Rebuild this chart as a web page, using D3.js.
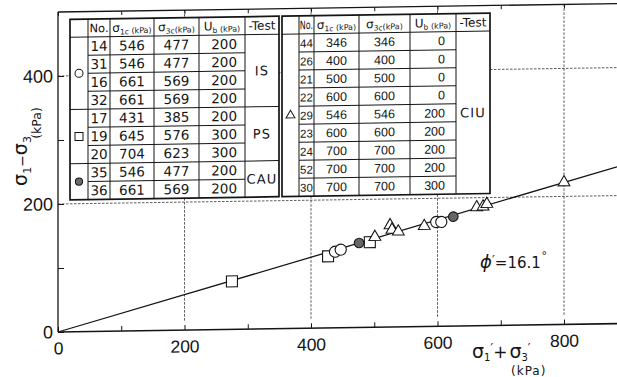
<!DOCTYPE html>
<html>
<head>
<meta charset="utf-8">
<script src="https://cdn.jsdelivr.net/npm/d3@7"></script>
<style>
  html, body { margin: 0; padding: 0; background: #fff; }
  svg { display: block; }
</style>
</head>
<body>
<svg id="chart" width="617" height="377"></svg>
<script>
// ---- test tables ----
const leftNo      = [14, 31, 16, 32, 17, 19, 20, 35, 36];
const leftSig1c   = [546, 546, 661, 661, 431, 645, 704, 546, 661];
const leftSig3c   = [477, 477, 569, 569, 385, 576, 623, 477, 569];
const leftUb      = [200, 200, 200, 200, 200, 300, 300, 200, 200];
const leftTests   = ["IS", "PS", "CAU"];
const leftSymbols = ["circle", "square", "dot"];
const leftGroupSizes = [4, 3, 2];

const rightNo      = [44, 26, 21, 22, 29, 23, 24, 52, 30];
const rightSig1c   = [346, 400, 500, 600, 546, 600, 700, 700, 700];
const rightSig3c   = [346, 400, 500, 600, 546, 600, 700, 700, 700];
const rightUb      = [0, 0, 0, 0, 200, 200, 200, 200, 300];
const rightTests   = ["CIU"];
const rightSymbols = ["triangle"];
const rightGroupSizes = [9];

// ---- failure points: sigma1' + sigma3' (x) and sigma1 - sigma3 (y), kPa ----
const isX  = [438, 447, 598, 606];
const isY  = [119, 122, 163, 163];
const psX  = [275, 427, 493];
const psY  = [75, 112, 133];
const cauX = [476, 625];
const cauY = [132, 171];
const ciuX = [501, 525, 528, 538, 579, 662, 672, 678, 800];
const ciuY = [141, 159, 152, 149, 157, 185, 186, 190, 222];

// failure line angle (degrees)
const phiDeg = 16.1;

// ---- axis ticks ----
const xTicks = [0, 100, 200, 300, 400, 500, 600, 700, 800];
const xLabels = [0, 200, 400, 600, 800];
const yTicks = [0, 100, 200, 300, 400];
const yLabels = [0, 200, 400];
const gridX = [200, 400, 600, 800];
const gridY = [200, 400];

// ---------------------------------------------------------------
const W = 617, H = 377;
const svg = d3.select("#chart");
const x = d3.scaleLinear().domain([0, 800]).range([58, 564]);
const y = d3.scaleLinear().domain([0, 400]).range([332, 76]);
const xMax = x.invert(W);
const yTop = 500;

const ink = "#151515";
const numFont = "'DejaVu Sans', sans-serif";
const tickFont = "'Liberation Sans', Arial, sans-serif";

// the plotting frame is very slightly sheared, as on the printed page
const plot = svg.append("g")
  .attr("transform", "translate(58,0) skewY(-0.86) translate(-58,0)");

// dotted grid
const grid = plot.append("g")
  .attr("stroke", "#333").attr("stroke-width", 0.8)
  .attr("stroke-dasharray", "2.5,1.5").attr("fill", "none");
gridX.forEach(v => {
  grid.append("line")
    .attr("x1", x(v)).attr("x2", x(v))
    .attr("y1", y(yTop)).attr("y2", y(14));
});
gridY.forEach(v => {
  grid.append("line")
    .attr("x1", x(0)).attr("x2", x(xMax))
    .attr("y1", y(v)).attr("y2", y(v));
});

// axes
const xAxis = d3.axisBottom(x).tickValues(xTicks)
  .tickSizeInner(-5).tickSizeOuter(0).tickPadding(10)
  .tickFormat(d => xLabels.includes(d) ? d : "");
const gx = plot.append("g").attr("transform", `translate(0,${y(0)})`).call(xAxis);
gx.select(".domain").remove();
gx.selectAll("line").attr("stroke", ink).attr("stroke-width", 1);
gx.selectAll("text").attr("font-family", tickFont).attr("font-size", 17.5).attr("fill", ink);

const yAxis = d3.axisLeft(y).tickValues(yTicks)
  .tickSizeInner(-6).tickSizeOuter(0).tickPadding(5)
  .tickFormat(d => yLabels.includes(d) ? d : "");
const gy = plot.append("g").attr("transform", `translate(${x(0)},0)`).call(yAxis);
gy.select(".domain").remove();
gy.selectAll("line").attr("stroke", ink).attr("stroke-width", 1);
gy.selectAll("text").attr("font-family", tickFont).attr("font-size", 18).attr("fill", ink);

const topAxis = d3.axisTop(x).tickValues(xTicks)
  .tickSizeInner(-4).tickSizeOuter(0).tickFormat("");
const gt = plot.append("g").attr("transform", `translate(0,${y(yTop)})`).call(topAxis);
gt.select(".domain").remove();
gt.selectAll("line").attr("stroke", ink).attr("stroke-width", 1);

// frame lines
plot.append("line").attr("x1", x(0)).attr("x2", x(xMax))
  .attr("y1", y(0)).attr("y2", y(0)).attr("stroke", ink).attr("stroke-width", 1.6);
plot.append("line").attr("x1", x(0)).attr("x2", x(0))
  .attr("y1", y(0)).attr("y2", y(yTop)).attr("stroke", ink).attr("stroke-width", 1.3);
plot.append("line").attr("x1", x(0)).attr("x2", x(xMax))
  .attr("y1", y(yTop)).attr("y2", y(yTop)).attr("stroke", ink).attr("stroke-width", 1.3);

// ---- tables ----
function symbolAt(g, kind, cx, cy) {
  if (kind === "circle") {
    g.append("circle").attr("cx", cx).attr("cy", cy).attr("r", 4)
      .attr("fill", "#fff").attr("stroke", ink).attr("stroke-width", 1);
  } else if (kind === "dot") {
    g.append("circle").attr("cx", cx).attr("cy", cy).attr("r", 3.6)
      .attr("fill", "#6a6a6a").attr("stroke", ink).attr("stroke-width", 1);
  } else if (kind === "square") {
    g.append("rect").attr("x", cx - 4).attr("y", cy - 4)
      .attr("width", 8).attr("height", 8)
      .attr("fill", "#fff").attr("stroke", ink).attr("stroke-width", 1);
  } else {
    g.append("path").attr("transform", `translate(${cx},${cy})`)
      .attr("d", d3.symbol(d3.symbolTriangle).size(34)())
      .attr("fill", "#fff").attr("stroke", ink).attr("stroke-width", 1);
  }
}

// column heading: main letter, subscript and a small unit
function header(g, cx, cy, main, sub, unit) {
  const t = g.append("text").attr("x", cx).attr("y", cy)
    .attr("text-anchor", "middle").attr("font-family", numFont).attr("fill", ink);
  t.append("tspan").attr("font-size", 12).text(main);
  t.append("tspan").attr("font-size", 7.5).attr("dy", 2.5).text(sub);
  t.append("tspan").attr("font-size", 8).attr("dy", -1).text(unit);
  return t;
}

function drawTable(cfg) {
  const g = plot.append("g");
  const c = cfg.cols, top = 19.5, rh = 18.05, n = cfg.no.length;
  const bottom = top + rh * (n + 1);
  const lineStyle = sel => sel.attr("stroke", ink).attr("stroke-width", 1);

  g.append("rect").attr("x", c[0]).attr("y", top)
    .attr("width", c[6] - c[0]).attr("height", bottom - top)
    .attr("fill", "#fff").attr("stroke", ink).attr("stroke-width", 1.7);
  c.slice(1, -1).forEach(cx => {
    lineStyle(g.append("line").attr("x1", cx).attr("x2", cx).attr("y1", top).attr("y2", bottom));
  });
  lineStyle(g.append("line").attr("x1", c[0]).attr("x2", c[6]).attr("y1", top + rh).attr("y2", top + rh));

  // group boundaries
  const bounds = [];
  let acc = 0;
  cfg.sizes.forEach(s => { bounds.push([acc, acc + s]); acc += s; });
  for (let i = 1; i < n; i++) {
    const yy = top + rh * (i + 1);
    const full = bounds.some(b => b[0] === i);
    lineStyle(g.append("line")
      .attr("x1", full ? c[0] : c[1]).attr("x2", full ? c[6] : c[5])
      .attr("y1", yy).attr("y2", yy));
  }

  // header row
  const hy = top + rh / 2 + 4.3;
  const mid = k => (c[k] + c[k + 1]) / 2;
  g.append("text")
    .attr("transform", `translate(${mid(1)},${hy}) scale(${cfg.noScale},1)`)
    .attr("text-anchor", "middle")
    .attr("font-family", numFont).attr("font-size", 11.5).attr("fill", ink)
    .text("No.");
  header(g, mid(2), hy, "σ", "1c", " (kPa)");
  header(g, mid(3), hy, "σ", "3c", "(kPa)");
  header(g, mid(4), hy, "U", "b", " (kPa)");
  g.append("text").attr("x", mid(5)).attr("y", hy).attr("text-anchor", "middle")
    .attr("font-family", numFont).attr("font-size", 12).attr("fill", ink)
    .text("-Test");

  // body rows
  const fs = cfg.fs;
  const cols = [cfg.no, cfg.s1, cfg.s3, cfg.ub];
  for (let i = 0; i < n; i++) {
    const by = top + rh * (i + 1) + rh / 2 + fs * 0.36;
    cols.forEach((arr, k) => {
      const anchorRight = k === 3;
      g.append("text")
        .attr("x", anchorRight ? c[5] - cfg.ubPad : mid(k + 1))
        .attr("y", by)
        .attr("text-anchor", anchorRight ? "end" : "middle")
        .attr("font-family", cfg.font)
        .attr("font-size", k === 0 ? cfg.noFs : fs).attr("fill", ink)
        .text(arr[i]);
    });
  }

  // group symbols and test names
  bounds.forEach((b, gi) => {
    const cy = top + rh * (1 + (b[0] + b[1]) / 2);
    symbolAt(g, cfg.symbols[gi], mid(0), cy);
    g.append("text").attr("x", mid(5)).attr("y", cy + 4.7)
      .attr("text-anchor", "middle").attr("font-family", numFont)
      .attr("font-size", 13).attr("letter-spacing", 1.2).attr("fill", ink)
      .text(cfg.tests[gi]);
  });
}

drawTable({
  cols: [70, 88, 110, 154, 199, 245, 279],
  no: leftNo, s1: leftSig1c, s3: leftSig3c, ub: leftUb,
  tests: leftTests, symbols: leftSymbols, sizes: leftGroupSizes,
  font: numFont, fs: 13.5, noFs: 13.5, ubPad: 8, noScale: 1
});
drawTable({
  cols: [282, 299, 314, 359, 410, 456, 490],
  no: rightNo, s1: rightSig1c, s3: rightSig3c, ub: rightUb,
  tests: rightTests, symbols: rightSymbols, sizes: rightGroupSizes,
  font: tickFont, fs: 12.5, noFs: 11.5, ubPad: 11, noScale: 0.7
});

// ---- failure envelope ----
const slope = Math.sin(phiDeg * Math.PI / 180);
plot.append("line")
  .attr("x1", x(0)).attr("y1", y(0))
  .attr("x2", x(xMax)).attr("y2", y(xMax * slope))
  .attr("stroke", ink).attr("stroke-width", 1.3);

// ---- points ----
const pts = plot.append("g").attr("stroke", ink).attr("stroke-width", 1.1);
psX.forEach((v, i) => {
  pts.append("rect").attr("x", x(v) - 5.5).attr("y", y(psY[i]) - 5.5)
    .attr("width", 11).attr("height", 11).attr("fill", "#fff");
});
ciuX.forEach((v, i) => {
  pts.append("path").attr("transform", `translate(${x(v)},${y(ciuY[i])})`)
    .attr("d", d3.symbol(d3.symbolTriangle).size(60)()).attr("fill", "#fff");
});
isX.forEach((v, i) => {
  pts.append("circle").attr("cx", x(v)).attr("cy", y(isY[i])).attr("r", 5.6).attr("fill", "#fff");
});
cauX.forEach((v, i) => {
  pts.append("circle").attr("cx", x(v)).attr("cy", y(cauY[i])).attr("r", 4.8).attr("fill", "#666");
});

// ---- axis titles ----
const yt = svg.append("text")
  .attr("transform", "translate(27,161) rotate(-90)")
  .attr("text-anchor", "middle").attr("font-family", numFont).attr("fill", ink);
yt.append("tspan").attr("font-size", 19).text("σ");
yt.append("tspan").attr("font-size", 11).attr("dy", 4).text("1");
yt.append("tspan").attr("font-size", 14).attr("dy", -4).text("−");
yt.append("tspan").attr("font-size", 19).text("σ");
yt.append("tspan").attr("font-size", 11).attr("dy", 4).text("3");

svg.append("text")
  .attr("transform", "translate(41,123) rotate(-90)")
  .attr("text-anchor", "middle").attr("font-family", numFont)
  .attr("font-size", 12.5).attr("fill", ink).text("(kPa)");

const xt = svg.append("text").attr("x", 472).attr("y", 358)
  .attr("font-family", numFont).attr("fill", ink);
xt.append("tspan").attr("font-size", 19).text("σ");
xt.append("tspan").attr("font-size", 10).attr("dy", 3).text("1");
xt.append("tspan").attr("font-size", 12).attr("dy", -9).text("′");
xt.append("tspan").attr("font-size", 17).attr("dy", 6).text("+");
xt.append("tspan").attr("font-size", 19).attr("dx", 2).text("σ");
xt.append("tspan").attr("font-size", 10).attr("dy", 3).text("3");
xt.append("tspan").attr("font-size", 12).attr("dy", -9).text("′");

svg.append("text").attr("x", 511).attr("y", 375)
  .attr("font-family", numFont).attr("font-size", 12).attr("letter-spacing", 1)
  .attr("fill", ink).text("(kPa)");

// ---- friction angle label ----
const pl = svg.append("text").attr("x", 480).attr("y", 268)
  .attr("font-family", numFont).attr("fill", ink);
pl.append("tspan").attr("font-size", 18).attr("font-style", "italic").text("ϕ");
pl.append("tspan").attr("font-size", 13).attr("dy", -4).text("′");
pl.append("tspan").attr("font-size", 15).attr("dy", 4).text("=" + phiDeg);
svg.append("text").attr("x", 541.5).attr("y", 259)
  .attr("font-family", numFont).attr("font-size", 11).attr("fill", ink).text("°");
</script>
</body>
</html>
